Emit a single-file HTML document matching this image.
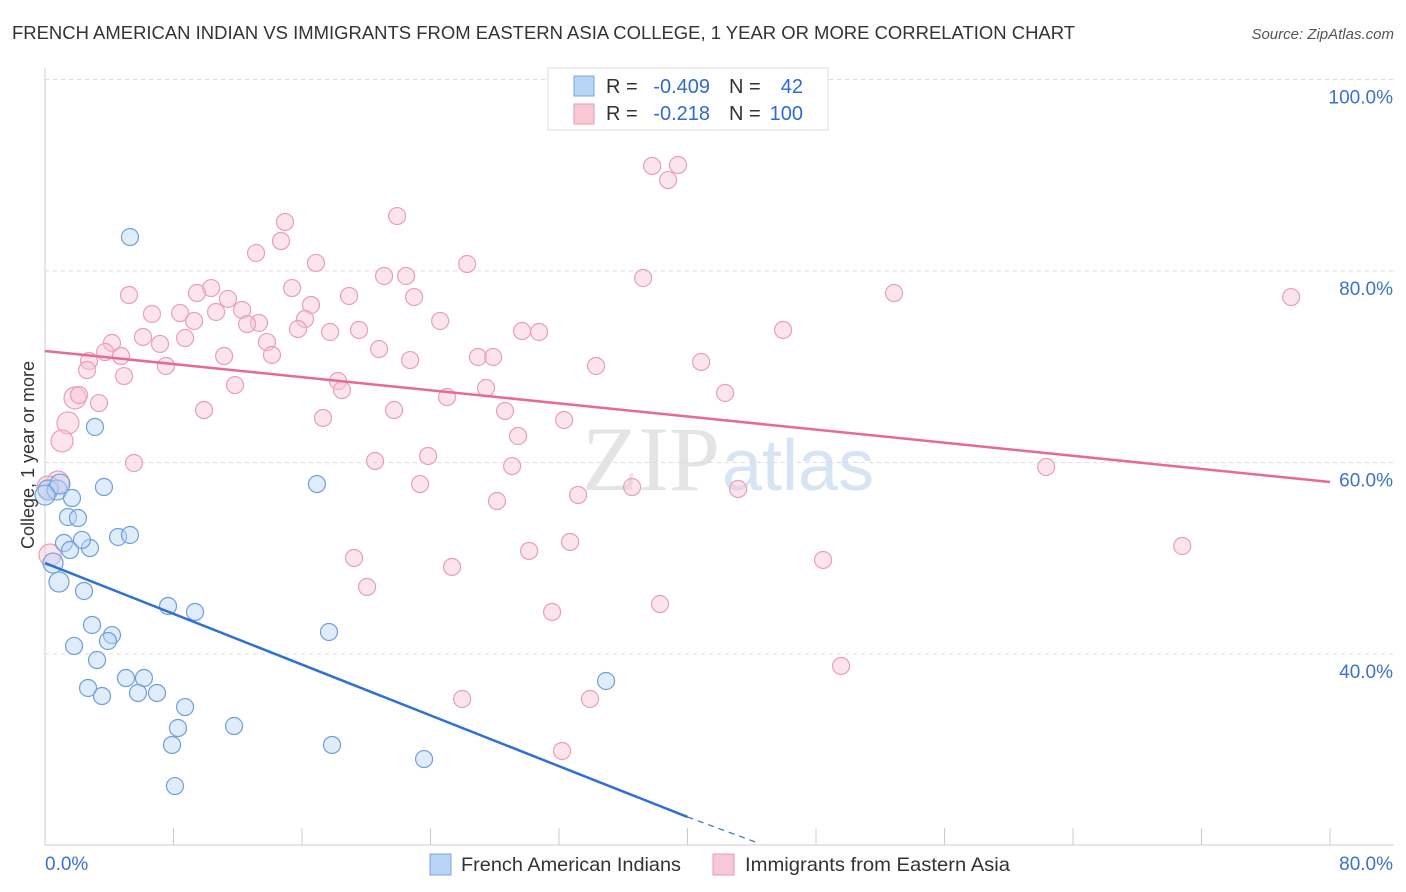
<!DOCTYPE html>
<html><head><meta charset="utf-8">
<style>
body{margin:0;background:#fff;font-family:"Liberation Sans",sans-serif;}
#wrap{position:relative;width:1406px;height:892px;overflow:hidden;}
</style></head>
<body>
<div id="wrap">
<svg id="svg" width="1406" height="892" xmlns="http://www.w3.org/2000/svg">
<text x="12" y="39" font-size="18" fill="#333" textLength="1063" lengthAdjust="spacingAndGlyphs">FRENCH AMERICAN INDIAN VS IMMIGRANTS FROM EASTERN ASIA COLLEGE, 1 YEAR OR MORE CORRELATION CHART</text>
<text x="1394" y="39" font-size="15" fill="#555" font-style="italic" text-anchor="end">Source: ZipAtlas.com</text>
<text x="720" y="490" font-size="92" fill="#e4e4e4" text-anchor="end" font-family="Liberation Serif">ZIP</text>
<text x="722" y="490" font-size="72" fill="#d6e4f4">atlas</text>
<g id="grid"></g>
<g id="axes"></g>
<g id="pts"></g>
<g id="lines"></g>
<text x="0" y="0" transform="translate(34,455) rotate(-90)" font-size="18" fill="#333" text-anchor="middle">College, 1 year or more</text>
<g>
<rect x="548" y="68" width="280" height="62" fill="#fff" stroke="#ddd"/>
<rect x="574" y="76" width="20" height="20" fill="#b8d4f5" stroke="#7aa6df"/>
<rect x="574" y="104" width="20" height="20" fill="#f8c8d6" stroke="#e99ab2"/>
<text x="606" y="93" font-size="20" fill="#333">R =</text>
<text x="710" y="93" font-size="20" fill="#2f6bd0" text-anchor="end">-0.409</text>
<text x="729" y="93" font-size="20" fill="#333">N =</text>
<text x="803" y="93" font-size="20" fill="#2f6bd0" text-anchor="end">42</text>
<text x="606" y="120" font-size="20" fill="#333">R =</text>
<text x="710" y="120" font-size="20" fill="#2f6bd0" text-anchor="end">-0.218</text>
<text x="729" y="120" font-size="20" fill="#333">N =</text>
<text x="803" y="120" font-size="20" fill="#2f6bd0" text-anchor="end">100</text>
</g>
<g>
<rect x="430" y="854" width="21" height="21" fill="#b8d4f5" stroke="#7aa6df"/>
<text x="461" y="871" font-size="19.5" fill="#333" textLength="220" lengthAdjust="spacingAndGlyphs">French American Indians</text>
<rect x="713" y="854" width="21" height="21" fill="#f8c8d6" stroke="#e99ab2"/>
<text x="745" y="871" font-size="19.5" fill="#333" textLength="265" lengthAdjust="spacingAndGlyphs">Immigrants from Eastern Asia</text>
</g>
</svg>
</div>
<script>
const blueX=[5.29,3.11,3.67,16.93,0.19,0.75,0.93,1.68,1.43,2.05,4.55,5.29,2.80,1.18,1.56,2.30,0.50,0.87,2.43,7.66,9.34,2.93,4.17,3.92,1.81,3.24,17.68,5.04,6.16,2.68,3.55,5.79,6.97,8.72,8.28,11.77,7.91,17.87,23.60,34.93,8.09,0];
const blueY=[83.55,63.71,57.44,57.75,57.13,57.13,57.75,56.29,54.31,54.20,52.22,52.43,51.07,51.59,50.86,51.91,49.50,47.52,46.58,45.01,44.39,43.03,41.98,41.36,40.84,39.37,42.30,37.49,37.49,36.45,35.61,35.93,35.93,34.46,32.27,32.48,30.50,30.50,29.03,37.18,26.21,56.6];
const pinkX=[37.80,39.41,38.79,21.92,14.94,14.69,13.14,16.87,26.28,22.48,21.11,37.24,5.23,10.34,9.46,11.39,15.38,18.93,22.98,52.86,77.58,6.66,8.41,10.65,12.27,9.28,13.32,16.56,16.19,12.58,24.60,15.75,17.75,19.55,29.70,30.76,45.95,6.10,8.72,7.16,4.17,13.82,3.74,4.73,2.74,11.15,14.13,20.80,22.73,26.96,27.90,7.53,34.31,40.85,2.62,4.92,18.24,18.49,27.46,11.83,1.87,2.12,3.36,9.90,21.73,25.03,28.64,42.34,17.31,32.32,1.43,1.06,29.45,23.85,5.54,20.55,29.08,62.33,23.35,36.55,43.15,33.19,28.14,32.69,30.14,70.80,19.24,48.44,25.34,20.05,31.57,38.29,49.56,25.97,33.93,32.19,0.81,0.31,0.19];
const pinkY=[90.97,91.07,89.50,85.74,85.12,83.13,81.88,80.84,80.73,79.48,79.48,79.27,77.49,78.22,77.70,77.08,78.22,77.39,77.28,77.70,77.28,75.51,75.61,75.72,75.93,74.78,74.57,76.45,74.99,74.46,74.78,73.94,73.63,73.84,73.73,73.63,73.84,73.11,73.00,72.38,72.48,72.58,71.54,71.12,70.60,71.12,71.23,71.85,70.70,71.02,71.02,70.08,70.08,70.50,69.66,69.03,68.51,67.57,67.78,68.09,66.74,67.05,66.21,65.48,65.48,66.84,65.38,67.26,64.65,64.44,64.13,62.25,62.77,60.68,59.95,60.16,59.63,59.53,57.75,57.44,57.23,56.61,55.98,51.70,50.76,51.28,50.03,49.82,49.09,47.00,44.39,45.22,38.75,35.30,35.30,29.87,57.96,50.34,57.44];
const yTicks=[100,80,60,40];
const yTickLabels=["100.0%","80.0%","60.0%","40.0%"];
const xTicks=[0,8,16,24,32,40,48,56,64,72,80];
const pinkLine=[71.65,57.96];
const blueLine=[49.5,22.98,20.26];
const blueLineX=[0,40,44.4];
const NS="http://www.w3.org/2000/svg";
const X=v=>45+v*16.0625, Y=v=>1037-v*9.575;
function mk(t,a,p){const e=document.createElementNS(NS,t);for(const k in a)e.setAttribute(k,a[k]);p.appendChild(e);return e;}
const grid=document.getElementById('grid'),axes=document.getElementById('axes'),pts=document.getElementById('pts'),lines=document.getElementById('lines');
yTicks.forEach((v,i)=>{
 const l=mk('line',{x1:45,x2:1394,y1:Y(v),y2:Y(v),stroke:'#ddd','stroke-dasharray':'4,4'},grid);
 
 
 const t=mk('text',{x:1393,y:Y(v)+24,'font-size':19,fill:'#3a72d0','text-anchor':'end'},axes);
 t.textContent=yTickLabels[i];
 
 
});
mk('line',{x1:45,x2:45,y1:68,y2:845,stroke:'#ccc'},axes);
mk('line',{x1:45,x2:1394,y1:845,y2:845,stroke:'#ccc'},axes);
xTicks.forEach(v=>{const l=mk('line',{x1:X(v),x2:X(v),y1:828,y2:845,stroke:'#ccc'},axes);
 
 });
let t0=mk('text',{x:45,y:870,'font-size':19,fill:'#3a72d0'},axes);t0.textContent='0.0%';


let t1=mk('text',{x:1393,y:870,'font-size':19,fill:'#3a72d0','text-anchor':'end'},axes);t1.textContent='80.0%';


pinkX.forEach((v,i)=>{const c=mk('circle',{cx:X(v),cy:Y(pinkY[i]),r:v<2?11:8.5,fill:'rgba(248,196,212,0.45)',stroke:'#e8a0b6','stroke-width':1.2},pts);
 
 });
blueX.forEach((v,i)=>{const c=mk('circle',{cx:X(v),cy:Y(blueY[i]),r:v<1?10:8.5,fill:'rgba(184,212,245,0.45)',stroke:'#6f9fdc','stroke-width':1.2},pts);
 
 });
let pl=mk('line',{x1:X(0),y1:Y(pinkLine[0]),x2:X(80),y2:Y(pinkLine[1]),stroke:'#e86a94','stroke-width':2.5},lines);


let bl=mk('line',{x1:X(blueLineX[0]),y1:Y(blueLine[0]),x2:X(blueLineX[1]),y2:Y(blueLine[1]),stroke:'#2f6fd6','stroke-width':2.5},lines);


let bd=mk('line',{x1:X(blueLineX[1]),y1:Y(blueLine[1]),x2:X(blueLineX[2]),y2:Y(blueLine[2]),stroke:'#2f6fd6','stroke-width':1.2,'stroke-dasharray':'6,5'},lines);


</script>
</body></html>
